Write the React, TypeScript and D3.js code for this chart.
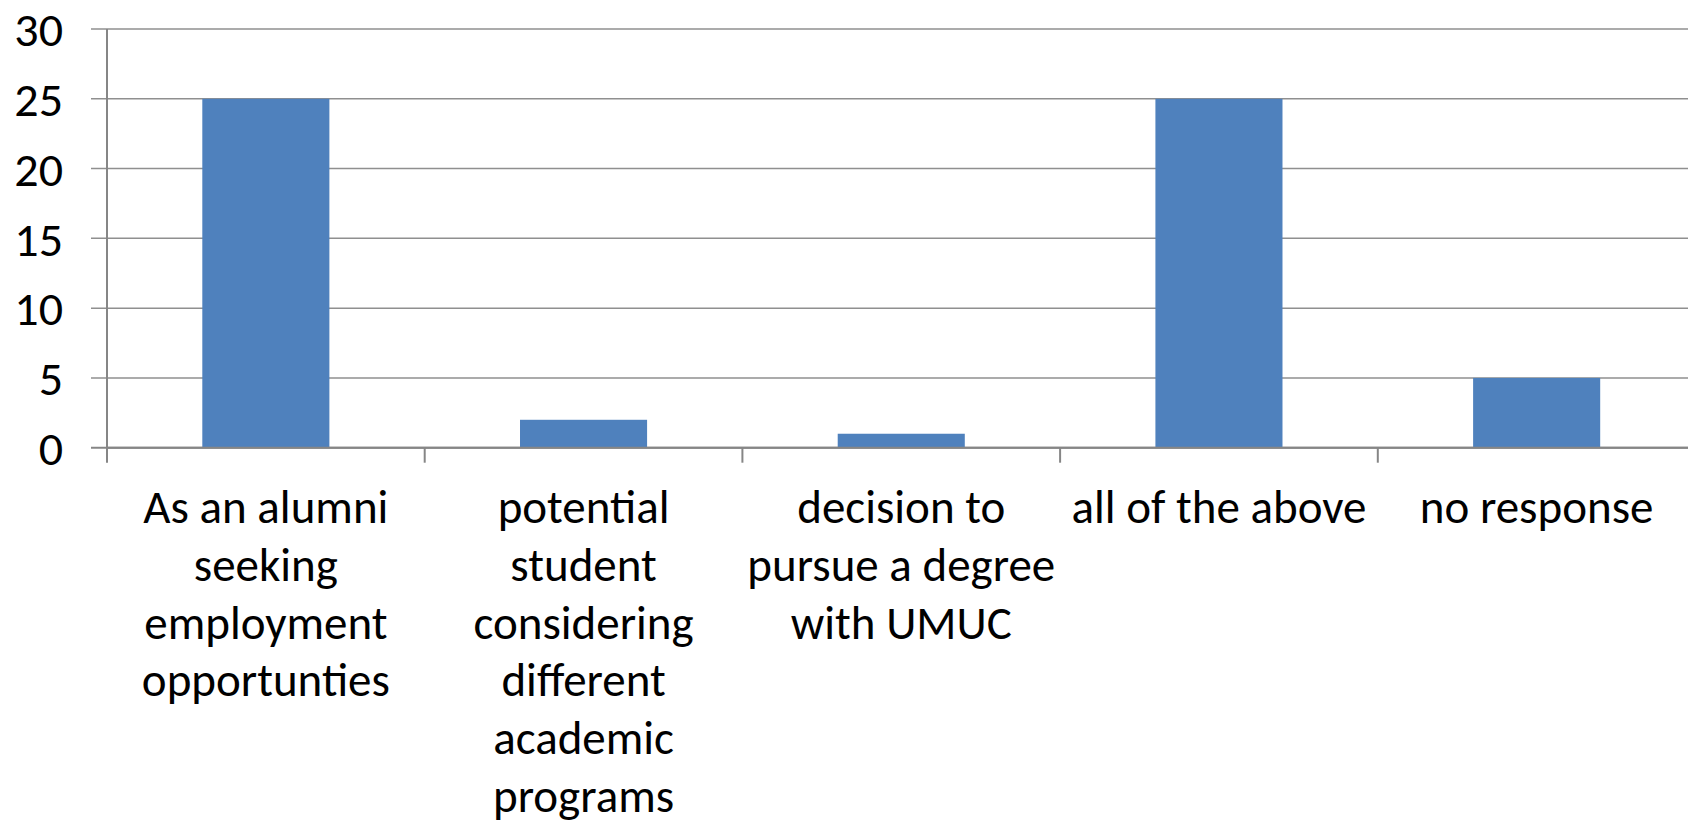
import React from "react";
import * as d3 from "d3";

// survey answers (x categories) and counts
const categories = [
  "As an alumni seeking employment opportunties",
  "potential student considering different academic programs",
  "decision to pursue a degree with UMUC",
  "all of the above",
  "no response",
];
// how the category labels wrap in the original
const labelLines = [
  ["As an alumni", "seeking", "employment", "opportunties"],
  ["potential", "student", "considering", "different", "academic", "programs"],
  ["decision to", "pursue a degree", "with UMUC"],
  ["all of the above"],
  ["no response"],
];
const values = [25, 2, 1, 25, 5];
const yTicks = [0, 5, 10, 15, 20, 25, 30];

const W = 1688;
const H = 826;
const FONT = "Carlito, Calibri, Lato, sans-serif";
const FS = 47;

export default function App() {
  const left = 107;
  const step = 317.7;
  const x = d3
    .scaleBand()
    .domain(categories)
    .range([left, left + step * categories.length])
    .padding(0);
  const y = d3.scaleLinear().domain([0, 30]).range([447.7, 29]);
  const barW = x.bandwidth() * 0.4;
  const y0 = y(0);

  return (
    <svg
      width={W}
      height={H}
      style={{ position: "absolute", left: 0, top: 0, background: "#fff" }}
    >
      {/* gridlines + y ticks */}
      {yTicks.map((t) => (
        <line
          key={"g" + t}
          x1={91}
          x2={W}
          y1={y(t)}
          y2={y(t)}
          stroke={t === 0 ? "#868686" : "#8f8f8f"}
          strokeWidth={t === 0 ? 2 : 1.5}
        />
      ))}
      {yTicks.map((t) => (
        <text
          key={"t" + t}
          x={63}
          y={y(t)}
          dy="0.36em"
          textAnchor="end"
          fontFamily={FONT}
          fontSize={48}
          fill="#000"
        >
          {t}
        </text>
      ))}

      {/* bars */}
      {categories.map((c, i) => (
        <rect
          key={c}
          x={x(c) + (x.bandwidth() - barW) / 2}
          y={y(values[i])}
          width={barW}
          height={y0 - y(values[i])}
          fill="#4F81BD"
        />
      ))}

      {/* axes */}
      <line x1={left} x2={left} y1={y(30)} y2={y0 + 15} stroke="#868686" strokeWidth={2} />
      <line x1={left} x2={W} y1={y0} y2={y0} stroke="#868686" strokeWidth={2} />
      {categories.map((c) => (
        <line
          key={"ct" + c}
          x1={x(c) + x.bandwidth()}
          x2={x(c) + x.bandwidth()}
          y1={y0}
          y2={y0 + 15}
          stroke="#868686"
          strokeWidth={2}
        />
      ))}

      {/* category labels */}
      {categories.map((c, i) => (
        <text
          key={"l" + c}
          textAnchor="middle"
          fontFamily={FONT}
          fontSize={FS}
          fill="#000"
        >
          {labelLines[i].map((ln, j) => (
            <tspan key={j} x={x(c) + x.bandwidth() / 2} y={523 + j * 57.8}>
              {ln}
            </tspan>
          ))}
        </text>
      ))}
    </svg>
  );
}
